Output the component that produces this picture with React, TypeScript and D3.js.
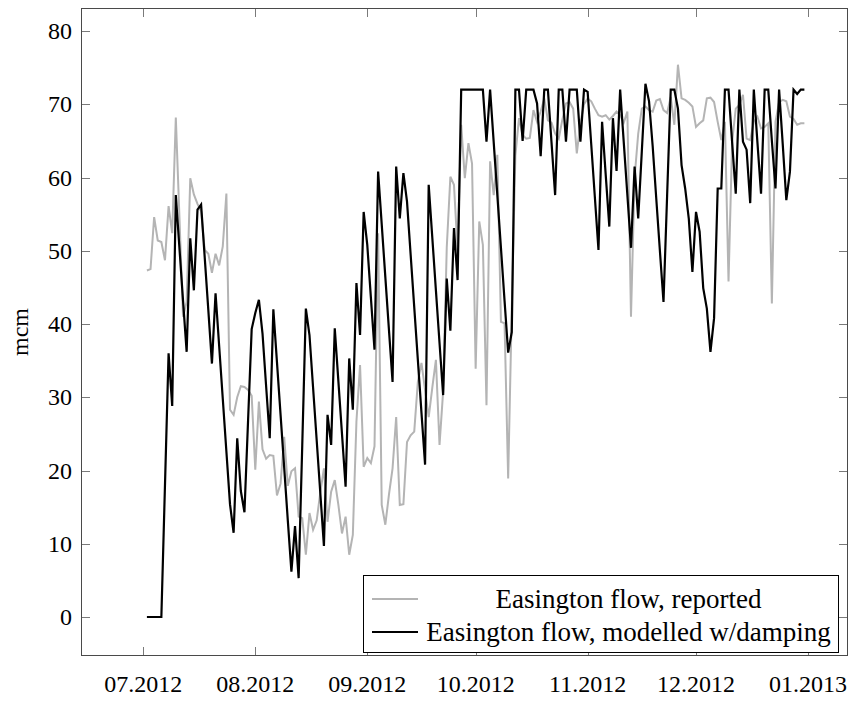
import React from "react";
import * as d3 from "d3";

// first observation date (daily series)
const START_DATE = [2012, 6, 2]; // 2 July 2012 (month is 0-based)

const reported = [
  47.3, 47.5, 54.6, 51.4, 51.2, 48.7, 56.1, 52.4, 68.2, 54.6,
  41, 43, 59.9, 57.7, 56.4, 55.4, 50.1, 49.6, 47, 49.6,
  48, 50.6, 57.8, 28.3, 27.6, 30, 31.5, 31.4, 31, 30.2,
  20.1, 29.4, 22.9, 21.6, 22.1, 22, 16.6, 18.2, 24.6, 17.9,
  19.9, 20.3, 13.7, 13.5, 8.5, 14.2, 11.9, 13.2, 17, 20.3,
  13, 17.1, 18.7, 15.3, 11.4, 13.7, 8.5, 11.2, 26.7, 34.4,
  20.5, 21.7, 21, 23.3, 52.4, 15.3, 12.6, 16.7, 20.3, 27.3,
  15.3, 15.4, 23.9, 24.8, 25.3, 32.1, 34.7, 31, 27.3, 31.3,
  35.1, 23.5, 30.8, 50.4, 60.1, 59, 50, 67.2, 59.9, 64.7,
  61.9, 33.9, 54, 50.8, 28.9, 62.2, 57.6, 63.1, 40.3, 40.1,
  18.9, 42, 63, 68.1, 65.8, 65.3, 65.4, 69.2, 67.6, 69,
  70.8, 67.8, 67.5, 66, 65.3, 67.9, 70.1, 70.3, 69.4, 63.3,
  67.5, 70, 70.8, 70.4, 69.4, 68.5, 68.3, 68.5, 67.9, 68.4,
  69, 68.5, 67.5, 69, 41, 60, 66, 69.4, 69.7, 69.2,
  69, 70.5, 70.7, 69.2, 68.8, 71, 67.2, 75.4, 70.8, 70.6,
  70.2, 69.7, 66.9, 67.4, 67.8, 70.8, 70.9, 70.3, 67.6, 65.1,
  67.6, 45.8, 64.9, 69.4, 69.9, 71.3, 65.3, 65.1, 67.6, 68.3,
  66.7, 66.9, 67.4, 42.8, 67.6, 70.3, 70.6, 70.4, 68.3, 68,
  67.2, 67.4, 67.4,
];

const modelled = [
  0, 0, 0, 0, 0, 18, 36, 28.8, 57.6, 50.4,
  43.2, 36.2, 51.7, 44.6, 55.6, 56.3, 49.1, 41.9, 34.6, 44.2,
  37, 29.8, 22.6, 15.4, 11.5, 24.4, 17.2, 14.3, 26.8, 39.3,
  41.5, 43.3, 38.7, 31.5, 24.4, 42, 34.8, 27.6, 20.4, 13.2,
  6.2, 12.4, 5.3, 23.4, 42.1, 38.5, 31.3, 24.1, 16.9, 9.7,
  27.6, 23.5, 39.4, 32.2, 25, 17.8, 35.3, 28.3, 45.6, 38.5,
  55.3, 50.8, 43.6, 36.5, 60.8, 53.6, 46.4, 39.2, 32.1, 61.5,
  54.4, 60.6, 56.7, 49.5, 42.3, 35.1, 27.9, 20.8, 59, 51.8,
  44.6, 37.4, 30.3, 46.2, 39.1, 53.1, 46, 72, 72, 72,
  72, 72, 72, 72, 64.9, 72, 64.8, 57.6, 50.4, 43.2,
  36.1, 38.9, 72, 72, 65, 72, 72, 72, 70.1, 62.9,
  72, 72, 64.8, 57.6, 72, 72, 64.9, 72, 72, 72,
  64.9, 72, 71.7, 64.5, 57.3, 50.1, 67.6, 60.4, 53.3, 68.1,
  60.9, 72, 64.8, 57.6, 50.4, 61.5, 54.4, 63.6, 72.8, 70.4,
  64.3, 57.1, 50, 43, 57.5, 72, 72, 69.4, 61.7, 58.5,
  54.4, 47.1, 55.3, 52.6, 44.9, 42.1, 36.2, 40.8, 58.5, 58.5,
  72, 72, 64.8, 57.8, 72, 64.9, 63.8, 56.5, 72, 64.8,
  57.8, 72, 72, 65, 58.5, 72, 64.6, 56.9, 60.8, 72,
  71.4, 72, 72,
];

const yTicks = [0, 10, 20, 30, 40, 50, 60, 70, 80];
const xTickMonths = [
  [2012, 6], [2012, 7], [2012, 8], [2012, 9], [2012, 10], [2012, 11], [2013, 0],
];
const xTickLabels = ["07.2012", "08.2012", "09.2012", "10.2012", "11.2012", "12.2012", "01.2013"];
const yLabel = "mcm";
const legendLabels = ["Easington flow, reported", "Easington flow, modelled w/damping"];

const DAY = 86400000;

export default function App() {
  const W = 857;
  const H = 704;
  const L = 81, R = 848, T = 8, B = 656;

  const t0 = Date.UTC(START_DATE[0], START_DATE[1], START_DATE[2]);
  const dates = reported.map((_, i) => new Date(t0 + i * DAY));

  const jul = new Date(Date.UTC(2012, 6, 1));
  const jan = new Date(Date.UTC(2013, 0, 1));
  const x = d3.scaleUtc().domain([jul, jan]).range([143.3, 808]);
  const y = d3.scaleLinear().domain([0, 80]).range([617, 31]);

  const line = d3
    .line<number>()
    .x((_, i) => x(dates[i]))
    .y((v) => y(v));

  const font = "'Liberation Serif', 'Times New Roman', serif";
  const tickLen = 9;
  const xTicks = xTickMonths.map(([yy, mm]) => new Date(Date.UTC(yy, mm, 1)));

  const legend = { x: 363.5, y: 575.5, w: 475, h: 77 };
  const legendRows = [
    { label: legendLabels[0], color: "#b4b4b4", yy: 599 },
    { label: legendLabels[1], color: "#000000", yy: 632 },
  ];

  return (
    <svg
      width={W}
      height={H}
      style={{ position: "fixed", left: 0, top: 0, background: "#fff" }}
      fontFamily={font}
    >
      <rect x={0} y={0} width={W} height={H} fill="#fff" />
      <defs>
        <clipPath id="plot">
          <rect x={L} y={T} width={R - L} height={B - T} />
        </clipPath>
      </defs>

      {/* ticks */}
      {yTicks.map((t) => (
        <g key={"yt" + t} stroke="#7a7a7a" strokeWidth={1}>
          <line x1={L} x2={L + tickLen} y1={Math.round(y(t)) + 0.5} y2={Math.round(y(t)) + 0.5} />
          <line x1={R - tickLen} x2={R} y1={Math.round(y(t)) + 0.5} y2={Math.round(y(t)) + 0.5} />
        </g>
      ))}
      {xTicks.map((d, i) => (
        <g key={"xt" + i} stroke="#7a7a7a" strokeWidth={1}>
          <line x1={Math.round(x(d)) + 0.5} x2={Math.round(x(d)) + 0.5} y1={B} y2={B - tickLen} />
          <line x1={Math.round(x(d)) + 0.5} x2={Math.round(x(d)) + 0.5} y1={T} y2={T + tickLen} />
        </g>
      ))}

      <g clipPath="url(#plot)" fill="none" strokeLinejoin="miter" strokeMiterlimit={4}>
        <path d={line(reported) || ""} stroke="#b4b4b4" strokeWidth={2} />
        <path d={line(modelled) || ""} stroke="#000" strokeWidth={2.2} />
      </g>

      {/* frame */}
      <rect x={L + 0.5} y={T + 0.5} width={R - L - 1} height={B - T - 1} fill="none" stroke="#4a4a4a" strokeWidth={1} />

      {/* y tick labels */}
      {yTicks.map((t) => (
        <text key={"yl" + t} x={72} y={y(t) + 8} textAnchor="end" fontSize={24} fill="#000">
          {t}
        </text>
      ))}
      {/* x tick labels */}
      {xTicks.map((d, i) => (
        <text key={"xl" + i} x={x(d)} y={692} textAnchor="middle" fontSize={24} fill="#000">
          {xTickLabels[i]}
        </text>
      ))}

      <text transform={`translate(28,332) rotate(-90)`} textAnchor="middle" fontSize={24} fill="#000">
        {yLabel}
      </text>

      {/* legend */}
      <rect x={legend.x} y={legend.y} width={legend.w} height={legend.h} fill="#fff" stroke="#000" strokeWidth={1} />
      {legendRows.map((r, i) => (
        <g key={"lg" + i}>
          <line x1={372} x2={418} y1={r.yy} y2={r.yy} stroke={r.color} strokeWidth={2.2} />
          <text x={628.5} y={r.yy + 9} textAnchor="middle" fontSize={27} fill="#000">
            {r.label}
          </text>
        </g>
      ))}
    </svg>
  );
}
